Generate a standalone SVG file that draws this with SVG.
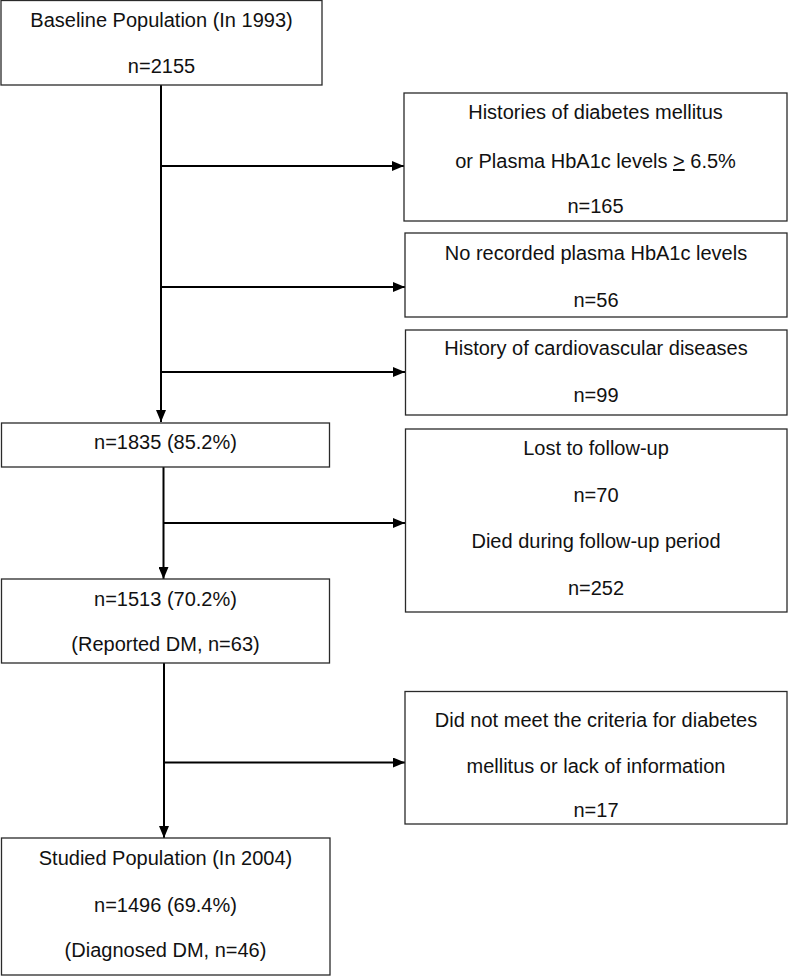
<svg xmlns="http://www.w3.org/2000/svg" width="788" height="977" viewBox="0 0 788 977">
<style>
rect.box{fill:#fff;stroke:#2a2a2a;stroke-width:1.3}
text{font-family:"Liberation Sans",Arial,sans-serif;font-size:20px;fill:#111;text-anchor:middle}
.conn line{stroke:#000;stroke-width:2;fill:none}
</style>
<defs>
<marker id="ah" markerUnits="userSpaceOnUse" markerWidth="12" markerHeight="10" refX="12" refY="5" orient="auto">
<path d="M0,0 L12,5 L0,10 z" fill="#000"/>
</marker>
</defs>
<rect width="788" height="977" fill="#fff"/>
<g class="conn" id="connectors">
<line x1="161" y1="85" x2="161" y2="422" marker-end="url(#ah)"/>
<line x1="161" y1="166" x2="404" y2="166" marker-end="url(#ah)"/>
<line x1="161" y1="287" x2="405" y2="287" marker-end="url(#ah)"/>
<line x1="161" y1="372" x2="405" y2="372" marker-end="url(#ah)"/>
<line x1="163.5" y1="467" x2="163.5" y2="579" marker-end="url(#ah)"/>
<line x1="163.5" y1="523" x2="405" y2="523" marker-end="url(#ah)"/>
<line x1="164" y1="663" x2="164" y2="838" marker-end="url(#ah)"/>
<line x1="164" y1="762.5" x2="405" y2="762.5" marker-end="url(#ah)"/>
</g>
<g id="baseline">
<rect class="box" x="1" y="0.5" width="321" height="84.5"/>
<text x="161.5" y="26.5">Baseline Population (In 1993)</text>
<text x="161.5" y="72.5">n=2155</text>
</g>
<g id="excl-dm">
<rect class="box" x="404" y="93" width="383" height="128"/>
<text x="595.5" y="119">Histories of diabetes mellitus</text>
<text x="595.5" y="168">or Plasma HbA1c levels <tspan text-decoration="underline">&gt;</tspan> 6.5%</text>
<text x="595.5" y="213">n=165</text>
</g>
<g id="excl-hba1c">
<rect class="box" x="405" y="233" width="382" height="84"/>
<text x="596" y="260">No recorded plasma HbA1c levels</text>
<text x="596" y="306.5">n=56</text>
</g>
<g id="excl-cvd">
<rect class="box" x="405.5" y="330" width="381.5" height="85"/>
<text x="596" y="355">History of cardiovascular diseases</text>
<text x="596" y="401.5">n=99</text>
</g>
<g id="n1835">
<rect class="box" x="1.5" y="423" width="328" height="44"/>
<text x="165.5" y="449">n=1835 (85.2%)</text>
</g>
<g id="lost">
<rect class="box" x="405.5" y="429" width="381.5" height="183"/>
<text x="596" y="455">Lost to follow-up</text>
<text x="596" y="501.5">n=70</text>
<text x="596" y="548">Died during follow-up period</text>
<text x="596" y="595">n=252</text>
</g>
<g id="n1513">
<rect class="box" x="1.5" y="579" width="328" height="84"/>
<text x="165.5" y="606">n=1513 (70.2%)</text>
<text x="165.5" y="651">(Reported DM, n=63)</text>
</g>
<g id="criteria">
<rect class="box" x="405" y="691.5" width="382" height="132.5"/>
<text x="596" y="726.5">Did not meet the criteria for diabetes</text>
<text x="596" y="773">mellitus or lack of information</text>
<text x="596" y="817">n=17</text>
</g>
<g id="studied">
<rect class="box" x="1.5" y="838" width="328.5" height="137"/>
<text x="165.5" y="865">Studied Population (In 2004)</text>
<text x="165.5" y="911.5">n=1496 (69.4%)</text>
<text x="165.5" y="956.5">(Diagnosed DM, n=46)</text>
</g>
</svg>
